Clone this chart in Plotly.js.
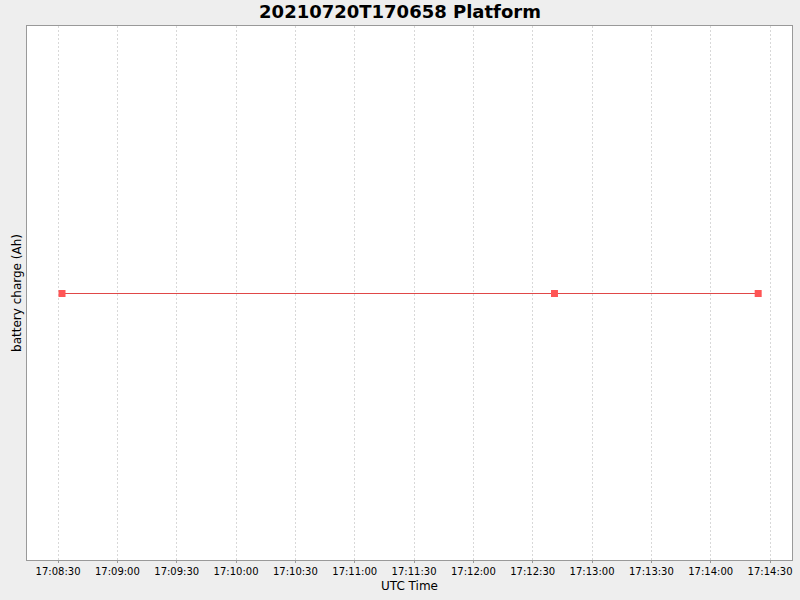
<!DOCTYPE html>
<html>
<head>
<meta charset="utf-8">
<script src="https://cdn.plot.ly/plotly-3.0.1.min.js"></script>
<style>html,body{margin:0;padding:0;background:#eeeeee;}#chart{width:800px;height:600px;}</style>
</head>
<body>
<div id="chart"></div>
<script>
// Data
const times = ["2021-07-20 17:08:32", "2021-07-20 17:12:41", "2021-07-20 17:14:24"];
const charge = [1, 1, 1];
const chartTitle = "20210720T170658 Platform";
const xLabel = "UTC Time";
const yLabel = "battery charge (Ah)";
const xRange = ["2021-07-20 17:08:14.3", "2021-07-20 17:14:41.1"];
const yRange = [0.5, 1.5019];

const trace = {
  x: times,
  y: charge,
  type: "scatter",
  mode: "lines+markers",
  line: {color: "#e04848", width: 1},
  marker: {symbol: "square", size: 7, color: "#ff5555"},
  hoverinfo: "none"
};

const layout = {
  width: 800,
  height: 600,
  paper_bgcolor: "#eeeeee",
  plot_bgcolor: "#ffffff",
  margin: {l: 27, r: 8, t: 26, b: 40},
  showlegend: false,
  font: {family: "DejaVu Sans, sans-serif", color: "#000000"},
  title: {
    text: "<b>" + chartTitle + "</b>",
    font: {family: "DejaVu Sans, sans-serif", size: 18, color: "#000000"},
    x: 0.5, xanchor: "center",
    y: 0.98, yref: "container", yanchor: "middle"
  },
  xaxis: {
    type: "date",
    range: xRange,
    tick0: "2021-07-20 17:08:30",
    dtick: 30000,
    tickformat: "%H:%M:%S",
    tickfont: {size: 10, color: "#000000"},
    ticks: "outside",
    ticklen: 2,
    tickcolor: "#999999",
    showgrid: true,
    gridcolor: "#d8d8d8",
    griddash: "2px,2px",
    gridwidth: 1,
    showline: true,
    linecolor: "#999999",
    linewidth: 1,
    mirror: true,
    zeroline: false,
    title: {text: xLabel, font: {size: 12, color: "#000000"}, standoff: 5}
  },
  yaxis: {
    range: yRange,
    showticklabels: false,
    ticks: "",
    showgrid: false,
    zeroline: false,
    showline: true,
    linecolor: "#999999",
    linewidth: 1,
    mirror: true,
    title: {text: yLabel, font: {size: 12, color: "#000000"}, standoff: 1}
  }
};

Plotly.newPlot("chart", [trace], layout, {staticPlot: true, displayModeBar: false});
</script>
</body>
</html>
